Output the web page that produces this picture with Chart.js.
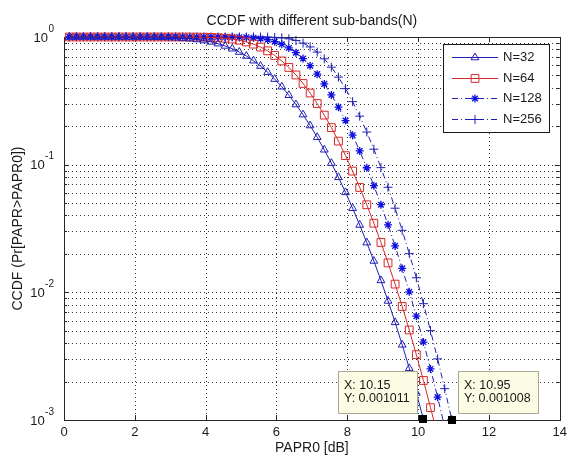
<!DOCTYPE html>
<html><head><meta charset="utf-8">
<script src="https://cdn.jsdelivr.net/npm/chart.js@4.4.1/dist/chart.umd.min.js"></script>
<style>html,body{margin:0;padding:0;background:#fff;}#wrap{width:572px;height:461px;}</style>
</head><body><div id="wrap"><canvas id="c" width="572" height="461"></canvas></div>
<script>
// ---- data ----
const papr0 = [0.15,0.35,0.55,0.75,0.95,1.15,1.35,1.55,1.75,1.95,2.15,2.35,2.55,2.75,2.95,3.15,3.35,3.55,3.75,3.95,4.15,4.35,4.55,4.75,4.95,5.15,5.35,5.55,5.75,5.95,6.15,6.35,6.55,6.75,6.95,7.15,7.35,7.55,7.75,7.95,8.15,8.35,8.55,8.75,8.95,9.15,9.35,9.55,9.75,9.95,10.15,10.35,10.55,10.75,10.95,11.15];
const ccdfN32 = [1,1,1,1,1,1,1,1,1,0.9994,0.9990,0.9982,0.9969,0.9949,0.9917,0.9869,0.9800,0.9701,0.9565,0.9385,0.9153,0.8864,0.8512,0.8097,0.7622,0.7094,0.6522,0.5919,0.5300,0.4680,0.4076,0.3498,0.2959,0.2467,0.2026,0.1640,0.1308,0.1028,0.0796,0.0607,0.0456,0.0337,0.0245,0.0176,0.0124,0.00856,0.00582,0.00388,0.00254,0.00163,0.001011,0.000627];
const ccdfN64 = [1,1,1,1,1,1,1,1,1,1,1,1,1,1,1,1,0.9996,0.9991,0.9981,0.9962,0.9928,0.9871,0.9779,0.9638,0.9434,0.9155,0.8790,0.8335,0.7791,0.7170,0.6491,0.5773,0.5043,0.4325,0.3642,0.3012,0.2445,0.1951,0.1529,0.1177,0.0891,0.0663,0.0485,0.0348,0.0246,0.0170,0.0116,0.00775,0.00507,0.00325,0.00204,0.00125,0.000753];
const ccdfN128 = [1,1,1,1,1,1,1,1,1,1,1,1,1,1,1,1,1,1,1,1,1,1,0.9995,0.9987,0.9968,0.9929,0.9854,0.9723,0.9512,0.9199,0.8768,0.8213,0.7543,0.6780,0.5958,0.5116,0.4293,0.3521,0.2823,0.2216,0.1702,0.1282,0.0946,0.0685,0.0486,0.0338,0.0231,0.0154,0.0101,0.00650,0.00408,0.00251,0.00151,0.000882];
const ccdfN256 = [1,1,1,1,1,1,1,1,1,1,1,1,1,1,1,1,1,1,1,1,1,1,1,1,1,1,0.9998,0.9992,0.9976,0.9936,0.9848,0.9681,0.9396,0.8963,0.8366,0.7615,0.6743,0.5802,0.4850,0.3941,0.3115,0.2399,0.1802,0.1322,0.0948,0.0665,0.0456,0.0306,0.0201,0.0130,0.00815,0.00501,0.00301,0.00176,0.001008,0.000561];
const seriesNames = ['N=32','N=64','N=128','N=256'];
const xTicks = [0,2,4,6,8,10,12,14];
const yExponents = [0,-1,-2,-3];
const titleText = 'CCDF with different sub-bands(N)';
const xLabelText = 'PAPR0 [dB]';
const yLabelText = 'CCDF (Pr[PAPR>PAPR0])';
const dataTips = [{x:10.15, y:0.001011, side:'left'}, {x:10.95, y:0.001008, side:'right'}];

// ---- styling ----
const FONT = "'Liberation Sans', Arial, Helvetica, sans-serif";
const TEXT = '#1a1a1a';
const BLUE = '#2020b4';
const RED = '#d62a2a';

const yGridValues = [];
(function(){
  const lo = Math.min(...yExponents), hi = Math.max(...yExponents);
  for (let e = lo; e < hi; e++) for (let m = 1; m <= 9; m++) yGridValues.push(+(m * Math.pow(10, e)).toPrecision(6));
  yGridValues.push(Math.pow(10, hi));
})();
function isDecade(v){ const l = Math.log10(v); return Math.abs(l - Math.round(l)) < 1e-9; }
function crisp(v){ return Math.round(v) + 0.5; }
function pts(vals){ return vals.map((v,i)=>({x: papr0[i], y: v})); }

function drawMarker(ctx, ds, x, y){
  const opts = {pointStyle: ds.pointStyle, radius: ds.pointRadius, rotation: 0, borderWidth: ds.pointBorderWidth};
  ctx.save();
  ctx.strokeStyle = ds.pointBorderColor; ctx.fillStyle = 'rgba(0,0,0,0)'; ctx.lineWidth = ds.pointBorderWidth;
  ctx.setLineDash([]);
  if (Chart.helpers && Chart.helpers.drawPoint) {
    Chart.helpers.drawPoint(ctx, opts, x, y);
  }
  ctx.restore();
}

const matlabAxes = {
  id: 'matlabAxes',
  beforeDatasetsDraw(chart){
    const {ctx, chartArea: a} = chart; const xs = chart.scales.x, ys = chart.scales.y;
    ctx.save();
    ctx.lineWidth = 1; ctx.strokeStyle = '#333'; ctx.setLineDash([1,3]);
    ctx.beginPath();
    xTicks.forEach(v => { if (v > xs.min && v < xs.max) { const p = crisp(xs.getPixelForValue(v)); ctx.moveTo(p, a.top); ctx.lineTo(p, a.bottom); } });
    yGridValues.forEach(v => { if (v > ys.min * 1.0001 && v < ys.max * 0.9999) { const p = crisp(ys.getPixelForValue(v)); ctx.moveTo(a.left, p); ctx.lineTo(a.right, p); } });
    ctx.stroke();
    ctx.setLineDash([]);
    ctx.strokeStyle = '#262626';
    ctx.beginPath();
    xTicks.forEach(v => { const p = crisp(xs.getPixelForValue(v)); ctx.moveTo(p, a.bottom); ctx.lineTo(p, a.bottom - 5); ctx.moveTo(p, a.top); ctx.lineTo(p, a.top + 5); });
    yGridValues.forEach(v => { const L = isDecade(v) ? 5 : 3; const p = crisp(ys.getPixelForValue(v)); ctx.moveTo(a.left, p); ctx.lineTo(a.left + L, p); ctx.moveTo(a.right, p); ctx.lineTo(a.right - L, p); });
    ctx.stroke();
    ctx.strokeRect(crisp(a.left), crisp(a.top), Math.round(a.right - a.left), Math.round(a.bottom - a.top));
    ctx.restore();
  },
  afterDraw(chart){
    const {ctx, chartArea: a} = chart; const xs = chart.scales.x, ys = chart.scales.y;
    ctx.save();
    ctx.fillStyle = TEXT;
    // y tick labels 10^e
    yExponents.forEach(e => {
      const py = ys.getPixelForValue(Math.pow(10, e));
      const expStr = String(e);
      ctx.font = '10px ' + FONT; ctx.textAlign = 'right'; ctx.textBaseline = 'middle';
      const right = a.left - 10;
      ctx.fillText(expStr, right, py - 8);
      const ew = ctx.measureText(expStr).width;
      ctx.font = '13px ' + FONT;
      ctx.fillText('10', right - ew - 0.5, py + 1);
    });
    // title and axis labels
    const cx = (a.left + a.right) / 2;
    ctx.textAlign = 'center'; ctx.textBaseline = 'middle';
    ctx.font = '14px ' + FONT; ctx.fillText(titleText, cx, 21);
    ctx.font = '14px ' + FONT; ctx.fillText(xLabelText, cx, 448);
    ctx.save(); ctx.translate(18, (a.top + a.bottom) / 2); ctx.rotate(-Math.PI / 2);
    ctx.fillText(yLabelText, 0, 0); ctx.restore();
    // legend
    const lw = 106, lh = 88, lx0 = Math.round(a.right) - 117, ly0 = Math.round(a.top) + 7;
    ctx.fillStyle = '#fff'; ctx.fillRect(lx0, ly0, lw, lh);
    ctx.strokeStyle = '#1a1a1a'; ctx.lineWidth = 1; ctx.strokeRect(lx0 + 0.5, ly0 + 0.5, lw, lh);
    chart.data.datasets.forEach((ds, i) => {
      const y = Math.round(ly0 + 13 + i * 20.5) + 0.5;
      ctx.save(); ctx.strokeStyle = ds.borderColor; ctx.lineWidth = ds.borderWidth; ctx.setLineDash(ds.borderDash || []);
      ctx.beginPath(); ctx.moveTo(lx0 + 9, y); ctx.lineTo(lx0 + 55, y); ctx.stroke(); ctx.restore();
      drawMarker(ctx, ds, lx0 + 32, y);
      ctx.fillStyle = TEXT; ctx.font = '13px ' + FONT; ctx.textAlign = 'left'; ctx.textBaseline = 'middle';
      ctx.fillText(ds.label, lx0 + 60, y);
    });
    // data tips
    dataTips.forEach(t => {
      const px = xs.getPixelForValue(t.x), py = ys.getPixelForValue(t.y);
      const l1 = 'X: ' + t.x, l2 = 'Y: ' + t.y;
      ctx.font = '12.5px ' + FONT;
      const w = Math.round(Math.max(ctx.measureText(l1).width, ctx.measureText(l2).width) + 13), h = 42;
      const bx = Math.round(t.side === 'left' ? px - 6 - w : px + 6), by = Math.round(py - 6.5 - h);
      ctx.fillStyle = '#fcfce4'; ctx.fillRect(bx, by, w, h);
      ctx.strokeStyle = '#a8a898'; ctx.strokeRect(bx + 0.5, by + 0.5, w, h);
      ctx.fillStyle = TEXT; ctx.textAlign = 'left'; ctx.textBaseline = 'middle';
      ctx.fillText(l1, bx + 6, by + 15); ctx.fillText(l2, bx + 6, by + 28);
      ctx.fillStyle = '#000'; ctx.fillRect(Math.round(px) - 4, Math.round(py) - 4, 8, 8);
    });
    ctx.restore();
  }
};

const clipOpt = {left: 10, top: false, right: 10, bottom: 1};
const datasets = [
  {label: seriesNames[0], data: pts(ccdfN32), borderColor: BLUE, borderWidth: 1, borderDash: [], pointStyle: 'triangle', pointRadius: 4.5, pointBorderColor: BLUE, pointBackgroundColor: 'rgba(0,0,0,0)', pointBorderWidth: 1, clip: clipOpt},
  {label: seriesNames[1], data: pts(ccdfN64), borderColor: RED, borderWidth: 1, borderDash: [], pointStyle: 'rect', pointRadius: 5.5, pointBorderColor: RED, pointBackgroundColor: 'rgba(0,0,0,0)', pointBorderWidth: 1, clip: clipOpt},
  {label: seriesNames[2], data: pts(ccdfN128), borderColor: BLUE, borderWidth: 1, borderDash: [6,3,1,3], pointStyle: 'star', pointRadius: 4, pointBorderColor: '#1010e0', pointBackgroundColor: 'rgba(0,0,0,0)', pointBorderWidth: 1.3, clip: clipOpt},
  {label: seriesNames[3], data: pts(ccdfN256), borderColor: BLUE, borderWidth: 1, borderDash: [6,3,1,3], pointStyle: 'cross', pointRadius: 4.5, pointBorderColor: BLUE, pointBackgroundColor: 'rgba(0,0,0,0)', pointBorderWidth: 1, clip: clipOpt}
];
datasets.forEach(d => { d.fill = false; d.tension = 0; d.pointHoverRadius = d.pointRadius; });

new Chart(document.getElementById('c'), {
  type: 'line',
  data: {datasets},
  plugins: [matlabAxes],
  options: {
    responsive: false, animation: false, devicePixelRatio: 1,
    layout: {padding: {top: 37, right: 0, left: 0, bottom: 0}},
    plugins: {legend: {display: false}, title: {display: false}, tooltip: {enabled: false}},
    scales: {
      x: {type: 'linear', min: 0, max: 14,
        afterBuildTicks: s => { s.ticks = xTicks.map(v => ({value: v})); },
        afterFit: s => { s.height = 41; },
        grid: {display: false, drawTicks: false}, border: {display: false},
        ticks: {font: {size: 13, family: FONT}, color: TEXT, padding: 5, maxRotation: 0, autoSkip: false}},
      y: {type: 'logarithmic', min: 0.001, max: 1,
        afterBuildTicks: s => { s.ticks = yGridValues.map(v => ({value: v})); },
        afterFit: s => { s.width = 64; },
        grid: {display: false, drawTicks: false}, border: {display: false},
        ticks: {display: false}}
    }
  }
});
</script></body></html>
